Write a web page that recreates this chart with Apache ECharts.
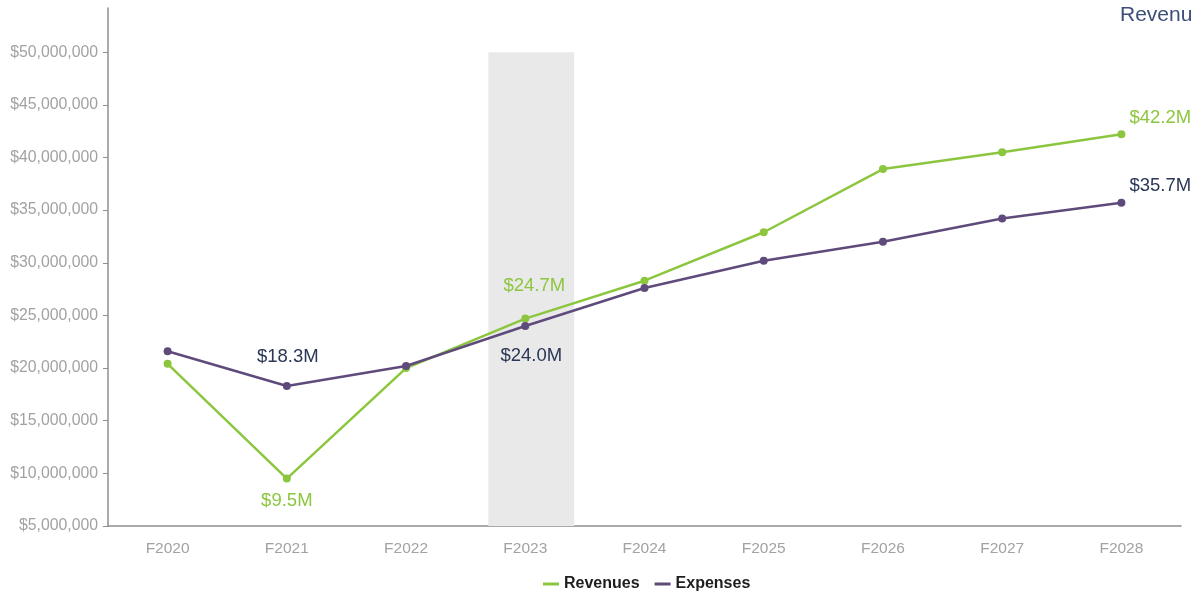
<!DOCTYPE html>
<html>
<head>
<meta charset="utf-8">
<script src="https://cdn.jsdelivr.net/npm/echarts@6/dist/echarts.min.js"></script>
<style>
  html, body { margin: 0; padding: 0; background: #ffffff; }
  #chart { width: 1193px; height: 594px; }
</style>
</head>
<body>
<div id="chart"></div>
<script>
// Fiscal years on the category axis
var years = ['F2020', 'F2021', 'F2022', 'F2023', 'F2024', 'F2025', 'F2026', 'F2027', 'F2028'];
// Annual totals in dollars
var revenues = [20400000, 9500000, 20000000, 24700000, 28300000, 32900000, 38900000, 40500000, 42200000];
var expenses = [21600000, 18300000, 20200000, 24000000, 27600000, 30200000, 32000000, 34200000, 35700000];
// Dollar ticks shown on the value axis
var yTicks = [5000000, 10000000, 15000000, 20000000, 25000000, 30000000, 35000000, 40000000, 45000000, 50000000];
// Years whose values are called out with a label
var labelledYears = ['F2021', 'F2023', 'F2028'];
// Highlighted year
var highlightYear = 'F2023';

var GREEN = '#8cc63f';
var PURPLE = '#5f4b7b';
var NAVY = '#2a3757';
var GREY = '#a2a2a2';
var AXIS = '#8f8f8f';
var FONT = 'Liberation Sans, Arial, sans-serif';

function money(v) {
  return '$' + v.toLocaleString('en-US');
}
function millions(v) {
  return '$' + (v / 1e6).toFixed(1) + 'M';
}

// Call-out placement per labelled year
var revLabel = {
  F2021: { position: 'bottom', distance: 9, offset: [0, 0] },
  F2023: { position: 'top', distance: 19, offset: [9, 0] },
  F2028: { position: 'right', distance: 4, offset: [0, -16] }
};
var expLabel = {
  F2021: { position: 'top', distance: 16, offset: [1, 0] },
  F2023: { position: 'bottom', distance: 16, offset: [6, 0] },
  F2028: { position: 'right', distance: 4, offset: [0, -17] }
};

function withLabels(values, layout, color) {
  return values.map(function (v, i) {
    var y = years[i];
    if (labelledYears.indexOf(y) < 0) return v;
    var l = layout[y];
    return {
      value: v,
      label: {
        show: true,
        position: l.position,
        distance: l.distance,
        offset: l.offset,
        formatter: function (p) { return millions(p.value); },
        color: color,
        fontSize: 18.5,
        fontFamily: FONT
      }
    };
  });
}

var hi = years.indexOf(highlightYear);

var chart = echarts.init(document.getElementById('chart'), null, { renderer: 'canvas' });
chart.setOption({
  animation: false,
  backgroundColor: '#ffffff',
  title: {
    text: 'Revenues and Expenses',
    left: 1115,
    top: 0,
    textStyle: {
      color: '#3b4d78',
      fontSize: 21,
      fontWeight: 'normal',
      fontFamily: FONT
    }
  },
  legend: {
    top: 571,
    left: 538,
    itemWidth: 16,
    itemHeight: 3,
    itemGap: 15,
    icon: 'rect',
    textStyle: {
      color: '#1e1e1e',
      fontSize: 16,
      fontWeight: 'bold',
      fontFamily: 'Liberation Sans Narrow, Arial Narrow, ' + FONT
    },
    data: ['Revenues', 'Expenses']
  },
  grid: {
    left: 108,
    right: 12,
    top: 8,
    bottom: 68,
    containLabel: false
  },
  xAxis: [{
    type: 'category',
    data: years,
    boundaryGap: true,
    axisLine: { lineStyle: { color: AXIS, width: 1.5 } },
    axisTick: { alignWithLabel: true, length: 5, lineStyle: { color: AXIS } },
    axisLabel: {
      color: GREY,
      fontSize: 15.5,
      margin: 15,
      fontFamily: FONT
    },
    splitLine: { show: false }
  }, {
    // hidden continuous axis used to place the highlight band
    type: 'value',
    min: 0,
    max: years.length,
    show: false
  }],
  yAxis: {
    type: 'value',
    min: 5000000,
    max: 54200000,
    axisLine: { show: true, lineStyle: { color: AXIS, width: 1.5 } },
    axisTick: { show: true, length: 5, lineStyle: { color: AXIS }, customValues: yTicks },
    axisLabel: {
      color: GREY,
      fontSize: 15.8,
      margin: 10,
      fontFamily: FONT,
      customValues: yTicks,
      formatter: money
    },
    splitLine: { show: false }
  },
  series: [{
    name: 'band',
    type: 'line',
    xAxisIndex: 1,
    data: [],
    silent: true,
    markArea: {
      silent: true,
      itemStyle: { color: '#e9e9ea' },
      data: [[
        { coord: [hi + 0.19, yTicks[yTicks.length - 1]] },
        { coord: [hi + 0.91, yTicks[0]] }
      ]]
    },
    z: 1
  }, {
    name: 'Revenues',
    type: 'line',
    data: withLabels(revenues, revLabel, GREEN),
    symbol: 'circle',
    symbolSize: 8,
    lineStyle: { color: GREEN, width: 2.5 },
    itemStyle: { color: GREEN },
    z: 3
  }, {
    name: 'Expenses',
    type: 'line',
    data: withLabels(expenses, expLabel, NAVY),
    symbol: 'circle',
    symbolSize: 8,
    lineStyle: { color: PURPLE, width: 2.5 },
    itemStyle: { color: PURPLE },
    z: 4
  }]
});
</script>
</body>
</html>
